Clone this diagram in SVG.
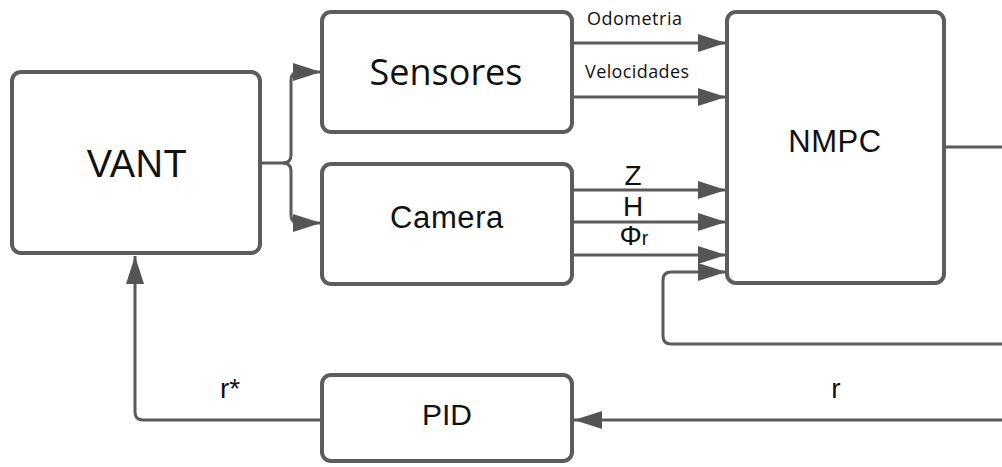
<svg xmlns="http://www.w3.org/2000/svg" width="1002" height="467" viewBox="0 0 1002 467">
  <defs>
    <marker id="arrow" markerUnits="userSpaceOnUse" markerWidth="30" markerHeight="20" refX="28" refY="9" orient="auto">
      <path d="M0,0 L28,9 L0,18 z" fill="#555555"/>
    </marker>
    <style>
      .box { fill: #ffffff; stroke: #5c5c5c; stroke-width: 4; }
      .wire { fill: none; stroke: #5a5a5a; stroke-width: 3; }
      .arr { marker-end: url(#arrow); }
      .lbl { font-family: "Liberation Sans", Arial, sans-serif; fill: #111111; text-anchor: middle; }
      .cal { font-family: "Open Sans", "Noto Sans", sans-serif; fill: #111111; }
    </style>
  </defs>

  <rect width="1002" height="467" fill="#ffffff"/>

  <!-- connectors -->
  <g id="connectors">
    <!-- VANT output split to Sensores and Camera -->
    <path class="wire arr" d="M261,163 L283,163 Q291,163 291,155 L291,80 Q291,72 299,72 L321,72"/>
    <path class="wire arr" d="M283,163 Q291,163 291,171 L291,215 Q291,223 299,223 L321,223"/>
    <!-- Sensores to NMPC -->
    <path class="wire arr" d="M573,43 L726,43"/>
    <path class="wire arr" d="M573,97 L726,97"/>
    <!-- Camera to NMPC -->
    <path class="wire arr" d="M573,190 L726,190"/>
    <path class="wire arr" d="M573,222 L726,222"/>
    <path class="wire arr" d="M573,255 L726,255"/>
    <!-- NMPC output and feedback loop -->
    <path class="wire" d="M945,147 L1002,147"/>
    <path class="wire arr" d="M1002,344 L671,344 Q663,344 663,336 L663,280 Q663,272 671,272 L726,272"/>
    <!-- reference into PID -->
    <path class="wire arr" d="M1002,420 L574,420"/>
    <!-- PID to VANT -->
    <path class="wire arr" d="M322,420 L143,420 Q135,420 135,412 L135,256"/>
  </g>

  <!-- connector labels -->
  <g id="labels">
    <text class="cal" x="587" y="25" font-size="18" letter-spacing="0.5">Odometria</text>
    <text class="cal" x="585" y="78" font-size="18" letter-spacing="0.4">Velocidades</text>
    <text class="lbl" x="633" y="185" font-size="28">Z</text>
    <text class="lbl" x="633" y="216" font-size="28">H</text>
    <text class="lbl" x="634" y="245" font-size="28">Φ<tspan font-size="20">r</tspan></text>
    <text class="lbl" x="230" y="398" font-size="28">r*</text>
    <text class="lbl" x="836" y="398" font-size="28">r</text>
  </g>

  <g id="vant">
    <rect class="box" x="12" y="72" width="248" height="181" rx="9"/>
    <text class="lbl" x="137" y="177" font-size="38" letter-spacing="0.5">VANT</text>
  </g>

  <g id="sensores">
    <rect class="box" x="322" y="12" width="250" height="120" rx="9"/>
    <text class="cal" x="446" y="85" font-size="36" text-anchor="middle">Sensores</text>
  </g>

  <g id="camera">
    <rect class="box" x="322" y="164" width="250" height="120" rx="9"/>
    <text class="lbl" x="447" y="228" font-size="31" letter-spacing="0.6">Camera</text>
  </g>

  <g id="nmpc">
    <rect class="box" x="727" y="12" width="217" height="271" rx="9"/>
    <text class="lbl" x="835" y="152" font-size="31" letter-spacing="0.5">NMPC</text>
  </g>

  <g id="pid">
    <rect class="box" x="322" y="375" width="250" height="86" rx="9"/>
    <text class="lbl" x="447" y="425" font-size="30">PID</text>
  </g>
</svg>
